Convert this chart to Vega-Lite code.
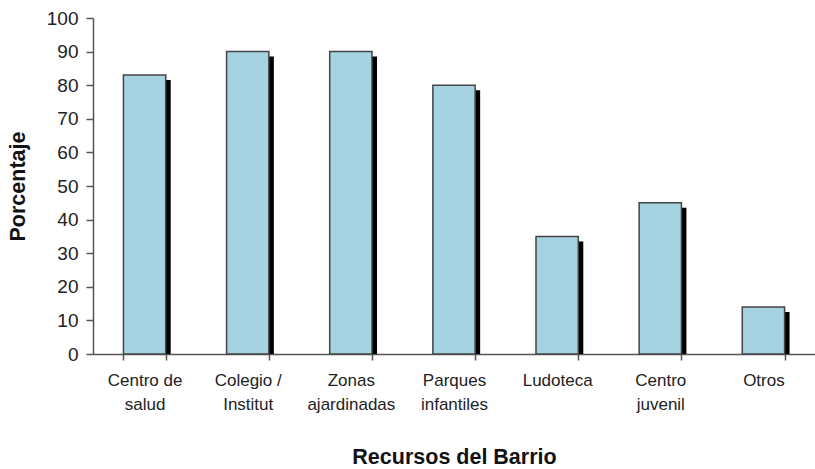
{
  "$schema": "https://vega.github.io/schema/vega-lite/v6.json",
  "width": 722,
  "height": 336,
  "autosize": "none",
  "padding": {"left": 93, "top": 18, "right": 0, "bottom": 115},
  "background": "white",
  "config": {
    "view": {"stroke": null},
    "font": "Liberation Sans",
    "axis": {"grid": false, "domainColor": "#555555", "domainWidth": 1.5, "tickColor": "#555555", "tickWidth": 1.5, "labelColor": "#222222", "titleColor": "#111111", "labelFont": "Liberation Sans", "titleFont": "Liberation Sans", "zindex": 1}
  },
  "data": {
    "values": [
      {"recurso": "Centro de\nsalud", "pct": 83},
      {"recurso": "Colegio /\nInstitut", "pct": 90},
      {"recurso": "Zonas\najardinadas", "pct": 90},
      {"recurso": "Parques\ninfantiles", "pct": 80},
      {"recurso": "Ludoteca", "pct": 35},
      {"recurso": "Centro\njuvenil", "pct": 45},
      {"recurso": "Otros", "pct": 14}
    ]
  },
  "encoding": {
    "x": {
      "field": "recurso", "type": "nominal", "sort": null,
      "scale": {"paddingInner": 0.59, "paddingOuter": 0.295},
      "axis": {
        "title": "Recursos del Barrio", "labelAngle": 0,
        "labelExpr": "isValid(datum.value) ? split(datum.value, '\\n') : ''",
        "labelFontSize": 17, "labelLineHeight": 24, "labelPadding": 12,
        "tickBand": "extent", "tickSize": 6,
        "titleFontSize": 21.5, "titleFontWeight": "bold", "titlePadding": 34
      }
    },
    "y": {
      "field": "pct", "type": "quantitative",
      "scale": {"domain": [0, 100], "nice": false},
      "axis": {
        "title": "Porcentaje", "values": [0,10,20,30,40,50,60,70,80,90,100],
        "labelFontSize": 19, "tickSize": 7, "labelPadding": 8,
        "titleFontSize": 21.5, "titleFontWeight": "bold", "titlePadding": 17
      }
    }
  },
  "layer": [
    {
      "mark": {"type": "bar", "color": "#000000", "xOffset": 5, "yOffset": 5, "y2Offset": 0},
      "encoding": {"y2": {"datum": 0}}
    },
    {"mark": {"type": "bar", "color": "#A6D3E1", "stroke": "#444444", "strokeWidth": 1.5}}
  ]
}
